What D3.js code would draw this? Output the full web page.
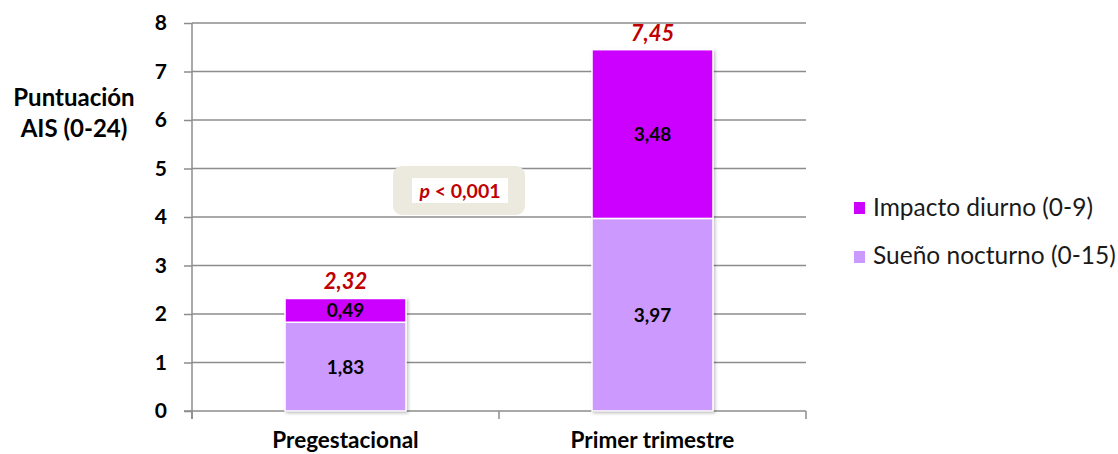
<!DOCTYPE html>
<html><head><meta charset="utf-8">
<script src="https://cdn.jsdelivr.net/npm/d3@7"></script>
<style>
body{margin:0;background:#fff;}
svg{display:block;font-family:Lato,"Open Sans",sans-serif;}
</style></head>
<body><svg id="chart" width="1118" height="454"></svg>
<script>
const categories = ["Pregestacional", "Primer trimestre"];
const nocturno = [1.83, 3.97];
const diurno = [0.49, 3.48];
const totals = [2.32, 7.45];
const seriesNames = ["Impacto diurno (0-9)", "Sueño nocturno (0-15)"];
const yTicks = [0, 1, 2, 3, 4, 5, 6, 7, 8];
const pLabel = "< 0,001";

const colDiurno = "#CC00FF", colNoct = "#CC99FF";
const fmt = v => d3.format(".2f")(v).replace(".", ",");

const svg = d3.select("#chart");
const x = d3.scaleBand().domain(categories).range([192, 806]).paddingInner(0).paddingOuter(0);
const y = d3.scaleLinear().domain([0, 8]).range([411, 23]);
const barW = x.bandwidth() * 0.394;

const defs = svg.append("defs");
const f = defs.append("filter").attr("id", "sh").attr("x", "-10%").attr("y", "-10%").attr("width", "120%").attr("height", "120%");
f.append("feDropShadow").attr("dx", 1.5).attr("dy", 1.5).attr("stdDeviation", 1.8).attr("flood-color", "#000").attr("flood-opacity", 0.25);

// gridlines
svg.append("g").selectAll("line").data(yTicks.filter(d => d > 0)).join("line")
  .attr("x1", 192).attr("x2", 806).attr("y1", d => y(d)).attr("y2", d => y(d))
  .attr("stroke", "#8c8c8c").attr("stroke-width", 1.5);

// y axis
const yAxis = svg.append("g").attr("transform", "translate(192,0)")
  .call(d3.axisLeft(y).tickValues(yTicks).tickSize(8).tickPadding(17).tickFormat(d3.format("d")));
yAxis.select(".domain").attr("stroke", "#8c8c8c").attr("stroke-width", 1.5).attr("d", "M0,23V419");
yAxis.selectAll(".tick line").attr("stroke", "#8c8c8c").attr("stroke-width", 1.5);
yAxis.selectAll(".tick text").attr("font-size", 21).attr("font-weight", "bold").attr("fill", "#000")
  .attr("font-family", "Lato,sans-serif");

// x axis
const xAxis = svg.append("g").attr("transform", "translate(0,411)")
  .call(d3.axisBottom(x).tickSize(0).tickPadding(21));
xAxis.select(".domain").attr("stroke", "#8c8c8c").attr("stroke-width", 1.5).attr("d", "M184,0H806");
xAxis.selectAll(".tick text").attr("font-size", 22.5).attr("font-weight", "bold").attr("fill", "#000")
  .attr("font-family", "Lato,sans-serif");
svg.append("g").selectAll("line").data([192, 499, 806]).join("line")
  .attr("x1", d => d).attr("x2", d => d).attr("y1", 411).attr("y2", 419)
  .attr("stroke", "#8c8c8c").attr("stroke-width", 1.5);

// y title
const yt = svg.append("text").attr("text-anchor", "middle").attr("font-size", 24).attr("font-weight", "bold");
yt.append("tspan").attr("x", 74).attr("y", 106).text("Puntuación");
yt.append("tspan").attr("x", 74).attr("y", 137).text("AIS (0-24)");

// stacked bars
const bars = svg.append("g");
categories.forEach((c, i) => {
  const cx = x(c) + x.bandwidth() / 2;
  const g = bars.append("g").attr("filter", "url(#sh)");
  g.append("rect").attr("x", cx - barW / 2).attr("width", barW)
    .attr("y", y(nocturno[i])).attr("height", y(0) - y(nocturno[i]))
    .attr("fill", colNoct).attr("stroke", "#fff").attr("stroke-width", 1.5);
  g.append("rect").attr("x", cx - barW / 2).attr("width", barW)
    .attr("y", y(nocturno[i] + diurno[i])).attr("height", y(nocturno[i]) - y(nocturno[i] + diurno[i]))
    .attr("fill", colDiurno).attr("stroke", "#fff").attr("stroke-width", 1.5);
  bars.append("text").attr("x", cx).attr("y", (y(0) + y(nocturno[i])) / 2 + 7)
    .attr("text-anchor", "middle").attr("font-size", 19).attr("font-weight", "bold").text(fmt(nocturno[i]));
  bars.append("text").attr("x", cx).attr("y", (y(nocturno[i]) + y(nocturno[i] + diurno[i])) / 2 + 7)
    .attr("text-anchor", "middle").attr("font-size", 19).attr("font-weight", "bold").text(fmt(diurno[i]));
  bars.append("text").attr("x", cx).attr("y", y(totals[i]) - 9)
    .attr("text-anchor", "middle").attr("font-size", 22).attr("font-weight", "bold").attr("font-style", "italic")
    .attr("fill", "#C00000").text(fmt(totals[i]));
});

// significance box
svg.append("rect").attr("x", 393).attr("y", 166).attr("width", 132).attr("height", 49).attr("rx", 9)
  .attr("fill", "#ECE9DF");
svg.append("rect").attr("x", 412).attr("y", 178).attr("width", 96).attr("height", 25).attr("fill", "#fff");
const pt = svg.append("text").attr("x", 460).attr("y", 198).attr("text-anchor", "middle")
  .attr("font-size", 19.5).attr("font-weight", "bold").attr("fill", "#C00000");
pt.append("tspan").attr("font-style", "italic").text("p");
pt.append("tspan").text(" " + pLabel);

// legend
const lg = svg.append("g");
[colDiurno, colNoct].forEach((col, i) => {
  lg.append("rect").attr("x", 854).attr("y", 202 + i * 49).attr("width", 11).attr("height", 12).attr("fill", col);
  lg.append("text").attr("x", 873).attr("y", 216 + i * 48).attr("font-size", 24.5).attr("fill", "#1a1a1a")
    .text(seriesNames[i]);
});
</script></body></html>
